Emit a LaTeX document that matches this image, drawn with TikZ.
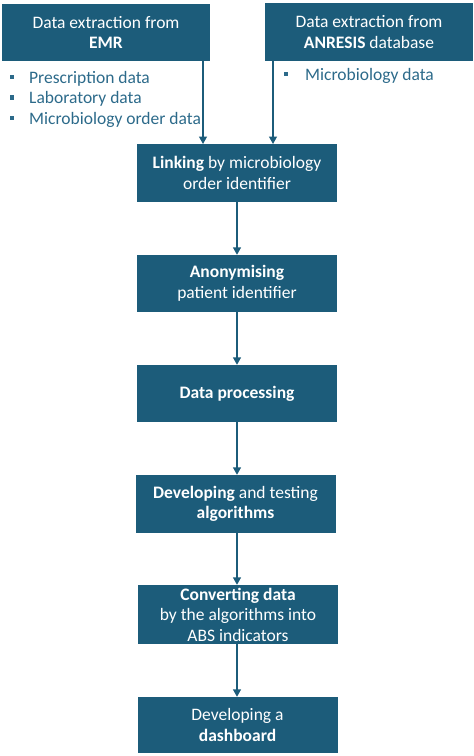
\documentclass[tikz,border=0pt]{standalone}
\usepackage{fontspec}
\setmainfont{Carlito}
\usetikzlibrary{arrows.meta}
\definecolor{boxteal}{RGB}{28,92,122}
\definecolor{listteal}{RGB}{44,106,138}
\tikzset{
  box/.style={draw=none, fill=boxteal, text=white, align=center, inner sep=0pt,
    font=\fontsize{17.5}{20.5}\selectfont},
  conn/.style={draw=boxteal, line width=1.4pt, -{Triangle[width=8pt,length=7.5pt]}},
  listtext/.style={anchor=base west, inner sep=0pt, text=listteal, font=\fontsize{17.5}{20.5}\selectfont},
  bul/.style={fill=listteal, minimum size=4.5pt, inner sep=0pt}
}
\begin{document}
\begin{tikzpicture}[x=1pt,y=1pt]
\useasboundingbox (0,0) rectangle (474,-756);
% top boxes
\node[box, minimum width=208, minimum height=57] (emr) at (106,-32.5) {Data extraction from\\\textbf{EMR}};
\node[box, minimum width=208, minimum height=58] (anr) at (369,-32) {Data extraction from\\\textbf{ANRESIS} database};
% bullets
\node[listtext] (l1) at (29,-83) {Prescription data};
\node[listtext] (l2) at (29,-103.5) {Laboratory data};
\node[listtext] (l3) at (29,-124) {Microbiology order data};
\node[bul] (b1) at (12,-77) {};
\node[bul] (b2) at (12,-97.5) {};
\node[bul] (b3) at (12,-118) {};
\node[listtext] (l4) at (305,-80) {Microbiology data};
\node[bul] (b4) at (286,-74) {};
% main column
\node[box, minimum width=200, minimum height=58] (link) at (237,-173) {\textbf{Linking} by microbiology\\order identifier};
\node[box, minimum width=200, minimum height=57] (anon) at (237,-283.5) {\textbf{Anonymising}\\patient identifier};
\node[box, minimum width=200, minimum height=57] (proc) at (237,-393.5) {\textbf{Data processing}};
\node[box, minimum width=200, minimum height=58] (dev) at (235.5,-504) {\textbf{Developing} and testing\\\textbf{algorithms}};
\node[box, minimum width=200, minimum height=59] (conv) at (238,-614.5) {\textbf{Converting data}\\by the algorithms into\\ABS indicators};
\node[box, minimum width=200, minimum height=56] (dash) at (237.5,-725) {Developing a\\\textbf{dashboard}};
% connectors
\coordinate (e1) at (203,-61);
\coordinate (e2) at (203,-144);
\coordinate (a1) at (273,-61);
\coordinate (a2) at (273,-144);
\draw[conn] (e1) -- (e2);
\draw[conn] (a1) -- (a2);
\draw[conn] (link.south -| 237,0) -- (anon.north -| 237,0);
\draw[conn] (anon.south -| 237,0) -- (proc.north -| 237,0);
\draw[conn] (proc.south -| 237,0) -- (dev.north -| 237,0);
\draw[conn] (dev.south -| 237,0) -- (conv.north -| 237,0);
\draw[conn] (conv.south -| 237,0) -- (dash.north -| 237,0);
\end{tikzpicture}
\end{document}
